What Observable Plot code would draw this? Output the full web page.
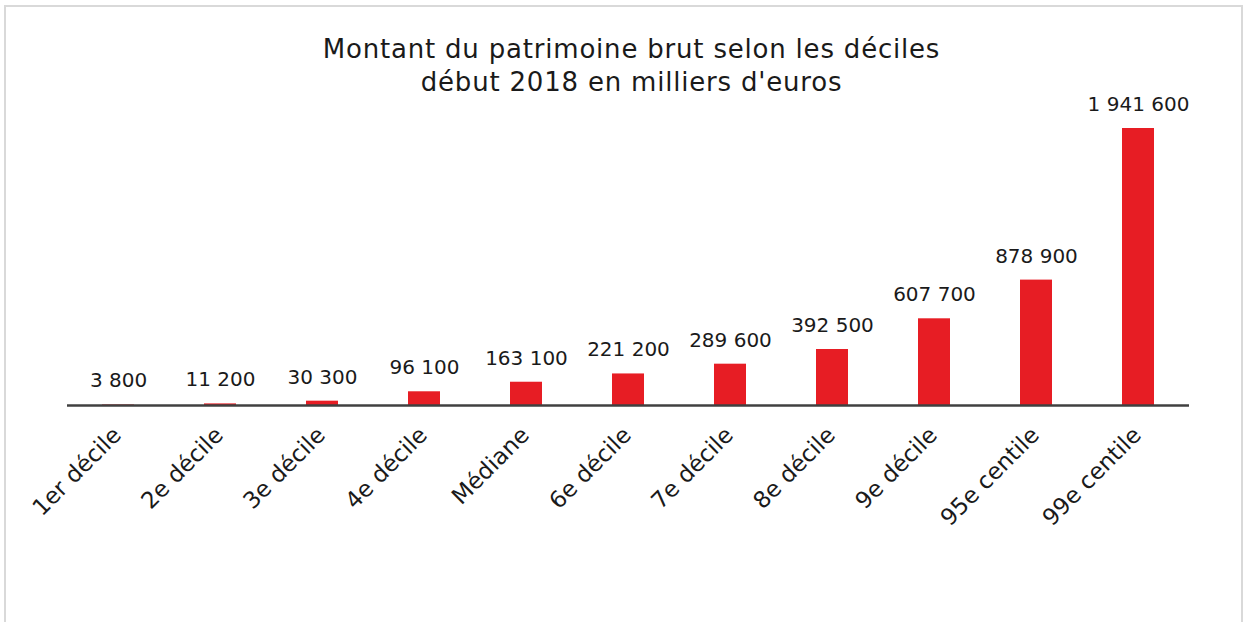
<!DOCTYPE html>
<html>
<head>
<meta charset="utf-8">
<script src="https://cdn.jsdelivr.net/npm/d3@7"></script>
<script src="https://cdn.jsdelivr.net/npm/@observablehq/plot@0.6"></script>
<style>
  html, body { margin: 0; padding: 0; background: #fff; }
  #wrap { position: relative; width: 1246px; height: 622px; overflow: hidden; }
  #frame { position: absolute; left: 4px; top: 5px; width: 1235px; height: 700px; border: 2px solid #d9d9d9; pointer-events: none; z-index: 2; }
  #chart { position: absolute; left: 0; top: 0; }
</style>
</head>
<body>
<div id="wrap"><div id="frame"></div><div id="chart"></div></div>
<script>
const categories = ["1er décile", "2e décile", "3e décile", "4e décile", "Médiane", "6e décile", "7e décile", "8e décile", "9e décile", "95e centile", "99e centile"];
const values = [3800, 11200, 30300, 96100, 163100, 221200, 289600, 392500, 607700, 878900, 1941600];
const titleLines = ["Montant du patrimoine brut selon les déciles", "début 2018 en milliers d'euros"];

const data = categories.map((c, i) => ({cat: c, value: values[i]}));
const fr = d3.formatLocale({decimal: ",", thousands: " ", grouping: [3], currency: ["", " €"]});
const fmt = fr.format(",d");
const FONT = "'DejaVu Sans', Verdana, sans-serif";

const chart = Plot.plot({
  width: 1246,
  height: 622,
  marginLeft: 67,
  marginRight: 57,
  marginTop: 128,
  marginBottom: 217,
  style: {fontFamily: FONT, background: "transparent", color: "#1a1a1a"},
  x: {domain: categories, paddingInner: 0.686, paddingOuter: 0.343, axis: null},
  y: {domain: [0, 1941600], axis: null},
  marks: [
    Plot.barY(data, {x: "cat", y: "value", fill: "#e71d24"}),
    Plot.ruleY([0], {stroke: "#404040", strokeWidth: 2.5}),
    Plot.text(data, {x: "cat", y: "value", text: d => fmt(d.value), dy: -24, fontSize: 20, fill: "#1a1a1a"}),
    Plot.text(data, {x: "cat", text: "cat", frameAnchor: "bottom", rotate: -45, textAnchor: "end", dx: 4, dy: 31, fontSize: 23, fill: "#1a1a1a"}),
    Plot.text([titleLines.join("\n")], {frameAnchor: "top", lineAnchor: "top", dx: 3, dy: -93.5, fontSize: 26, lineHeight: 1.27, fill: "#1a1a1a"})
  ]
});
// slight tracking on the title to mimic the wide geometric typeface of the original
d3.select(chart).selectAll("g[aria-label='text']").filter((d, i, n) => i === n.length - 1).style("letter-spacing", "0.8px");
document.getElementById("chart").appendChild(chart);
</script>
</body>
</html>
